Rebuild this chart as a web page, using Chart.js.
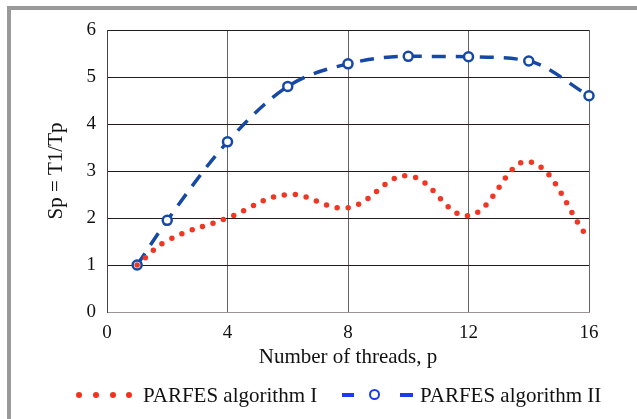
<!DOCTYPE html>
<html>
<head>
<meta charset="utf-8">
<script src="https://cdn.jsdelivr.net/npm/chart.js@4.4.1/dist/chart.umd.min.js"></script>
<style>
  html, body { margin: 0; padding: 0; background: #fff; }
  #wrap { position: relative; width: 637px; height: 419px; overflow: hidden; font-family: "Liberation Serif", "Times New Roman", serif; }
  #frame { position: absolute; left: 7px; top: 6px; right: 0; bottom: 0; border-top: 4px solid #9a9a9a; border-left: 4px solid #9a9a9a; }
  canvas { position: absolute; left: 0; top: 0; }
  .leg { position: absolute; font-size: 21px; color: #111; line-height: 1; white-space: nowrap; }
  .dot { position: absolute; width: 6px; height: 6px; border-radius: 50%; background: rgb(240, 50, 30); }
  .dash { position: absolute; height: 3.5px; background: rgb(25, 60, 240); }
  .ring { position: absolute; width: 7px; height: 7px; border-radius: 50%; border: 2.5px solid rgb(25, 60, 240); background: #fff; }
</style>
</head>
<body>
<div id="wrap">
  <div id="frame"></div>
  <canvas id="speedupChart" width="637" height="419"></canvas>
  <!-- legend -->
  <div class="dot" style="left:76px; top:392px"></div>
  <div class="dot" style="left:93px; top:392px"></div>
  <div class="dot" style="left:110px; top:392px"></div>
  <div class="dot" style="left:126px; top:392px"></div>
  <div class="leg" style="left:143px; top:385px">PARFES algorithm I</div>
  <div class="dash" style="left:342px; top:393px; width:12px"></div>
  <div class="ring" style="left:369px; top:389px"></div>
  <div class="dash" style="left:400px; top:393px; width:13px"></div>
  <div class="leg" style="left:420px; top:385px">PARFES algorithm II</div>
</div>
<script>
// Speedup vs number of threads
const threads = [1, 2, 4, 6, 8, 10, 12, 14, 16];
const algorithmI = [1.0, 1.52, 2.0, 2.5, 2.22, 2.9, 2.05, 3.2, 1.55];
const algorithmII = [1.0, 1.95, 3.62, 4.8, 5.28, 5.44, 5.43, 5.34, 4.6];
const xTicks = [0, 4, 8, 12, 16];
const yTicks = [0, 1, 2, 3, 4, 5, 6];

const toPoints = (xs, ys) => xs.map((x, i) => ({ x: x, y: ys[i] }));

const ctx = document.getElementById('speedupChart');

new Chart(ctx, {
    type: 'line',
    data: {
        datasets: [{
            label: 'PARFES algorithm I',
            data: toPoints(threads, algorithmI),
            borderColor: 'rgb(240, 55, 35)',
            borderWidth: 5.5,
            borderDash: [0, 11],
            borderCapStyle: 'round',
            tension: 0.4,
            pointRadius: 0,
            fill: false,
            clip: false
        }, {
            label: 'PARFES algorithm II',
            data: toPoints(threads, algorithmII),
            borderColor: 'rgb(22, 72, 165)',
            borderWidth: 3.5,
            borderDash: [14, 10],
            tension: 0.4,
            cubicInterpolationMode: 'monotone',
            pointRadius: 4.5,
            pointBorderWidth: 2.5,
            pointBackgroundColor: '#fff',
            pointBorderColor: 'rgb(22, 72, 165)',
            fill: false,
            clip: false
        }]
    },
    options: {
        responsive: false,
        animation: false,
        events: [],
        layout: {
            padding: { left: 44, right: 48, top: 30, bottom: 49 }
        },
        scales: {
            x: {
                type: 'linear',
                min: 0,
                max: 16,
                afterBuildTicks: function(scale) {
                    scale.ticks = xTicks.map(v => ({ value: v }));
                },
                afterFit: function(scale) { scale.height = 58; },
                grid: { color: '#6a6262', lineWidth: 1, drawTicks: false },
                border: { color: '#9a9494', width: 1 },
                ticks: {
                    padding: 10,
                    color: '#111',
                    font: { family: 'Liberation Serif', size: 19 }
                },
                title: {
                    display: true,
                    text: 'Number of threads, p',
                    color: '#111',
                    padding: 0,
                    font: { family: 'Liberation Serif', size: 21 }
                }
            },
            y: {
                min: 0,
                max: 6,
                afterBuildTicks: function(scale) {
                    scale.ticks = yTicks.map(v => ({ value: v }));
                },
                afterFit: function(scale) { scale.width = 63; },
                grid: { color: '#231b1b', lineWidth: 1, drawTicks: false },
                border: { color: '#4a4242', width: 1 },
                ticks: {
                    padding: 11,
                    color: '#111',
                    font: { family: 'Liberation Serif', size: 19 }
                },
                title: {
                    display: true,
                    text: 'Sp = T1/Tp',
                    color: '#111',
                    padding: 0,
                    font: { family: 'Liberation Serif', size: 21 }
                }
            }
        },
        plugins: {
            legend: { display: false },
            tooltip: { enabled: false }
        }
    }
});
</script>
</body>
</html>
